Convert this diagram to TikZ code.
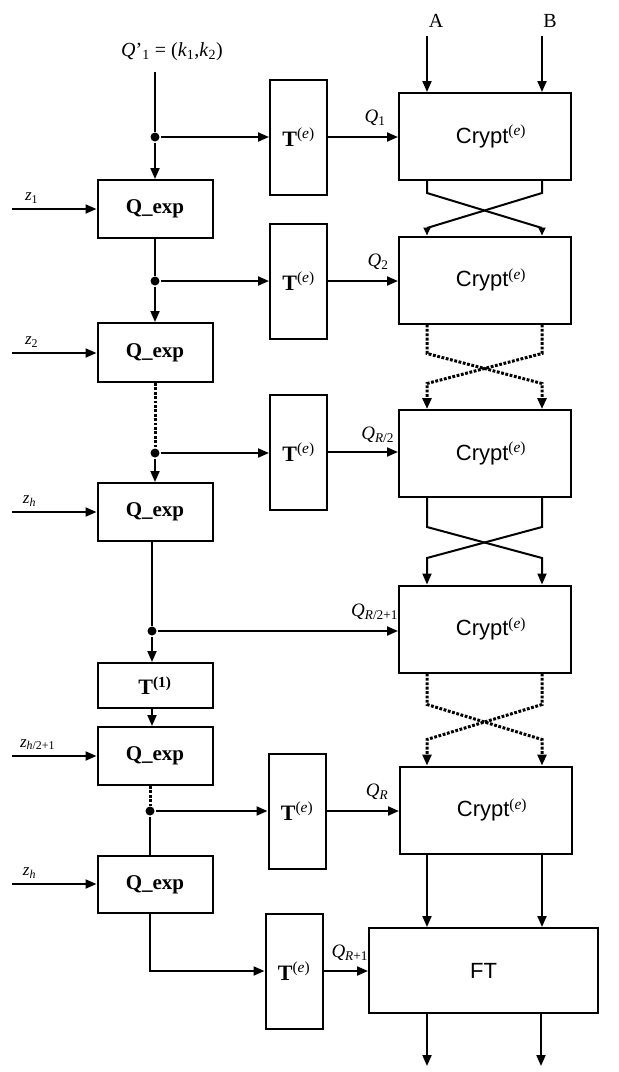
\documentclass[tikz,border=0pt]{standalone}
\usepackage{fontspec}
\setmainfont{Liberation Serif}
\setsansfont{Liberation Sans}
\usetikzlibrary{arrows.meta}
\begin{document}
\begin{tikzpicture}[x=1pt,y=-1pt, line width=2pt,
 >={Triangle[length=11pt,width=9pt]},
 sm/.style={-{Triangle[length=8pt,width=7pt]}},
 box/.style={draw, line width=2pt, inner sep=0pt},
 qexp/.style={box, minimum width=115pt, minimum height=58pt, font=\fontsize{21}{21}\selectfont\bfseries},
 tbox/.style={box, minimum width=57pt, minimum height=115pt, font=\fontsize{22}{22}\selectfont},
 crypt/.style={box, minimum width=172pt, minimum height=87pt, font=\fontsize{22}{22}\selectfont},
 dots/.style={line width=3pt, dash pattern=on 2.8pt off 1.6pt},
 dotnode/.style={circle, fill, inner sep=0pt, minimum size=9pt},
 lbl/.style={font=\fontsize{19}{19}\selectfont, inner sep=0pt},
 zl/.style={font=\fontsize{17}{17}\selectfont, inner sep=0pt, anchor=south west}
]
\useasboundingbox (0,0) rectangle (619,1072);
\newcommand{\Te}{\textbf{T}\textsuperscript{(\textit{e})}}
\newcommand{\Cr}{\hspace*{12pt}\textsf{Crypt}\textsuperscript{(\textit{e})}}

% top labels
\node[lbl, font=\fontsize{20}{20}\selectfont] (q1top) at (172,52) {\textit{Q}'\textsubscript{1} = (\textit{k}\textsubscript{1},\textit{k}\textsubscript{2})};
\node[lbl, font=\fontsize{20}{20}\selectfont] (A) at (436,21) {A};
\node[lbl, font=\fontsize{20}{20}\selectfont] (B) at (550,21) {B};
\coordinate (qs) at (155,72);
\coordinate (pa) at (427,36);
\coordinate (pb) at (542,36);

% left column
\node[qexp] (Q1) at (155,209) {Q\_exp};
\node[qexp, minimum height=59pt] (Q2) at (155,352.5) {Q\_exp};
\node[qexp] (Q3) at (155,512) {Q\_exp};
\node[box, minimum width=115pt, minimum height=45pt, font=\fontsize{22}{22}\selectfont] (T1b) at (155,685.5) {\textbf{T}\textsuperscript{\textbf{(1)}}};
\node[qexp] (Q4) at (155,756) {Q\_exp};
\node[qexp, minimum height=57pt] (Q5) at (155,884.5) {Q\_exp};

% T boxes
\node[tbox] (Ta) at (298.5,137) {\Te};
\node[tbox] (Tb) at (298.5,281) {\Te};
\node[tbox] (Tc) at (298.5,452) {\Te};
\node[tbox] (Td) at (297,811) {\Te};
\node[tbox] (Tf) at (294,971) {\Te};

% Crypt boxes
\node[crypt] (C1) at (485,136.5) {\Cr};
\node[crypt] (C2) at (485,280) {\Cr};
\node[crypt] (C3) at (485,453.5) {\Cr};
\node[crypt] (C4) at (485,629) {\Cr};
\node[crypt] (C5) at (486,810) {\Cr};
\node[box, minimum width=229pt, minimum height=85pt, font=\fontsize{22}{22}\selectfont\sffamily] (FT) at (483.5,970.5) {FT};

% dots
\node[dotnode] (d1) at (155,137) {};
\node[dotnode] (d2) at (155,281) {};
\node[dotnode] (d3) at (155,453) {};
\node[dotnode] (d4) at (152,631) {};
\node[dotnode] (d5) at (150,811) {};

% left spine
\draw (qs) -- (d1);
\draw[->] (d1) -- (Q1);
\draw (Q1.south) -- (d2);
\draw[->] (d2) -- (Q2);
\draw[dots] (Q2.south) -- (d3);
\draw[->] (d3) -- (Q3);
\draw (Q3.south -| d4) -- (d4);
\draw[->] (d4) -- (T1b.north -| d4);
\draw[->] (T1b.south -| d4) -- (Q4.north -| d4);
\draw[dots] (Q4.south -| d5) -- (d5);
\draw (d5) -- (Q5.north -| d5);
\draw[->] (Q5.south -| d5) |- (Tf.west);

% branches to T
\draw[->] (d1) -- (d1 -| Ta.west);
\draw[->] (d2) -- (d2 -| Tb.west);
\draw[->] (d3) -- (d3 -| Tc.west);
\draw[->] (d5) -- (d5 -| Td.west);
\draw[->] (d4) -- (d4 -| C4.west);

% T to Crypt
\draw[->] (Ta.east) -- (Ta.east -| C1.west);
\draw[->] (Tb.east) -- (Tb.east -| C2.west);
\draw[->] (Tc.east) -- (Tc.east -| C3.west);
\draw[->] (Td.east) -- (Td.east -| C5.west);
\draw[->] (Tf.east) -- (Tf.east -| FT.west);

% Q labels
\node[lbl, anchor=south] (lq1) at (375,127) {\textit{Q}\textsubscript{1}};
\node[lbl, anchor=south] (lq2) at (378,271) {\textit{Q}\textsubscript{2}};
\node[lbl, anchor=south east] (lq3) at (395,444) {\textit{Q}\textsubscript{\textit{R}/2}};
\node[lbl, anchor=south east] (lq4) at (399,621) {\textit{Q}\textsubscript{\textit{R}/2+1}};
\node[lbl, anchor=south] (lq5) at (377,801) {\textit{Q}\textsubscript{\textit{R}}};
\node[lbl, anchor=south east] (lq6) at (369,962) {\textit{Q}\textsubscript{\textit{R}+1}};

% z inputs
\coordinate (z1s) at (12,209);
\coordinate (z2s) at (12,353);
\coordinate (z3s) at (12,512);
\coordinate (z4s) at (12,756);
\coordinate (z5s) at (12,884);
\draw[->] (z1s) -- (z1s -| Q1.west);
\draw[->] (z2s) -- (z2s -| Q2.west);
\draw[->] (z3s) -- (z3s -| Q3.west);
\draw[->] (z4s) -- (z4s -| Q4.west);
\draw[->] (z5s) -- (z5s -| Q5.west);
\node[zl] (lz1) at (24,204) {\textit{z}\textsubscript{1}};
\node[zl] (lz2) at (24,348) {\textit{z}\textsubscript{2}};
\node[zl] (lz3) at (22,507) {\textit{z}\textsubscript{\textit{h}}};
\node[zl] (lz4) at (19,751) {\textit{z}\textsubscript{\textit{h}/2+1}};
\node[zl] (lz5) at (22,879) {\textit{z}\textsubscript{\textit{h}}};

% A, B inputs
\draw[->] (pa) -- (C1.north -| pa);
\draw[->] (pb) -- (C1.north -| pb);

% crossings
\draw[sm] (C1.south -| pa) -- ++(0,12) -- ++(115,35) -- (C2.north -| pb);
\draw[sm] (C1.south -| pb) -- ++(0,12) -- ++(-115,35) -- (C2.north -| pa);
\draw[dots, ->] (C2.south -| pa) -- ++(0,29) -- ++(115,30) -- (C3.north -| pb);
\draw[dots, ->] (C2.south -| pb) -- ++(0,29) -- ++(-115,30) -- (C3.north -| pa);
\draw[->] (C3.south -| pa) -- ++(0,29) -- ++(115,31) -- (C4.north -| pb);
\draw[->] (C3.south -| pb) -- ++(0,29) -- ++(-115,31) -- (C4.north -| pa);
\draw[dots, ->] (C4.south -| pa) -- ++(0,31) -- ++(115,35) -- (C5.north -| pb);
\draw[dots, ->] (C4.south -| pb) -- ++(0,31) -- ++(-115,35) -- (C5.north -| pa);

% to FT and outputs
\draw[->] (C5.south -| pa) -- (FT.north -| pa);
\draw[->] (C5.south -| pb) -- (FT.north -| pb);
\coordinate (oa) at (427,1066);
\coordinate (ob) at (541,1066);
\draw[->] (FT.south -| oa) -- (oa);
\draw[->] (FT.south -| ob) -- (ob);
\end{tikzpicture}
\end{document}
